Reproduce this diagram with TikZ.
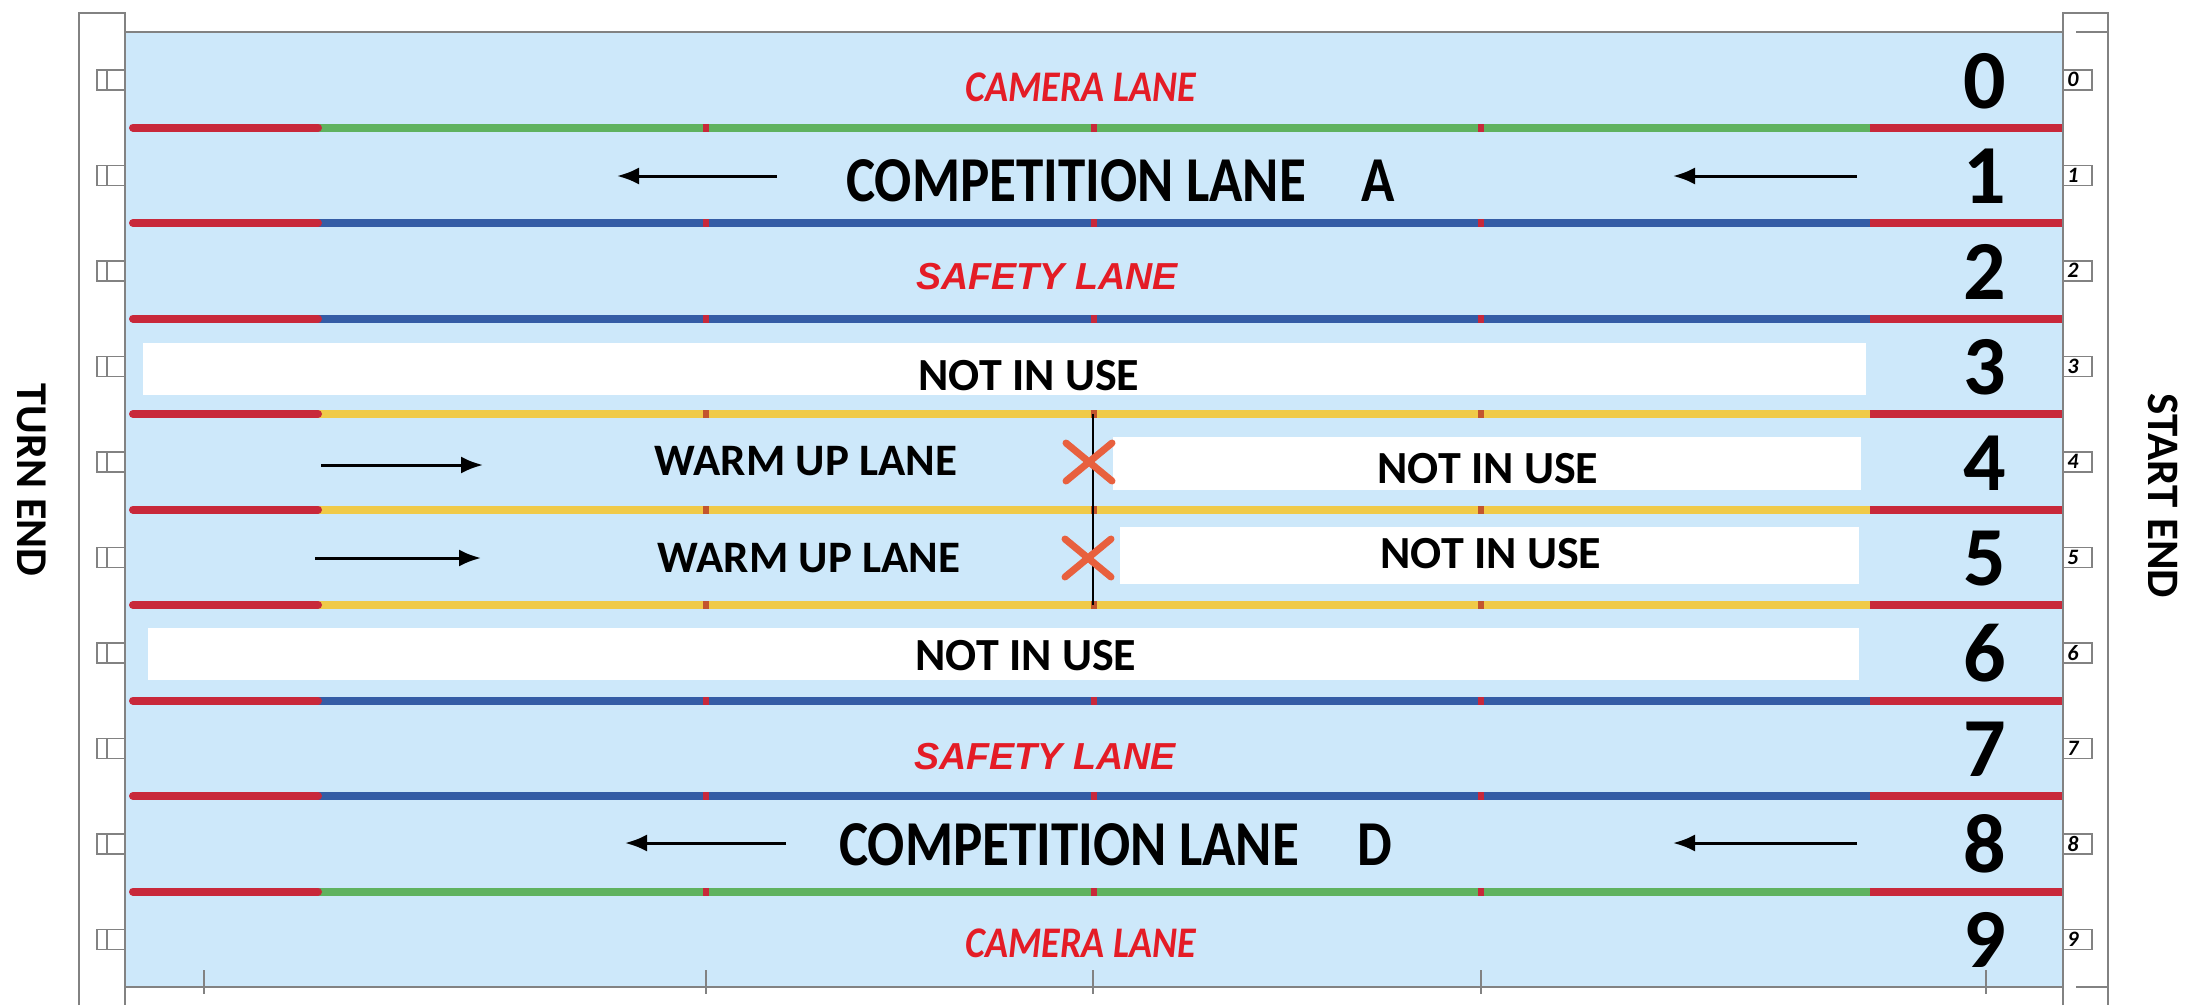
\documentclass[tikz,border=0pt]{standalone}
\usepackage{fontspec}
\usepackage{graphicx}
\setmainfont{Carlito}
\newfontfamily\arialf{Liberation Sans}
\usetikzlibrary{arrows.meta}
\definecolor{poolblue}{RGB}{205,232,250}
\definecolor{ropered}{RGB}{200,40,58}
\definecolor{ropegreen}{RGB}{95,178,95}
\definecolor{ropeblue}{RGB}{52,92,165}
\definecolor{ropeyellow}{RGB}{240,202,72}
\definecolor{labelred}{RGB}{228,28,38}
\definecolor{xorange}{RGB}{232,96,62}
\definecolor{wallgray}{RGB}{130,130,130}
\definecolor{markbrown}{RGB}{195,85,45}
\begin{document}
\begin{tikzpicture}[x=1pt,y=-1pt,
  wall/.style={draw=wallgray,line width=1.8pt},
  rope/.style={line width=8pt},
  lbl/.style={inner sep=0pt,anchor=base,font=\bfseries\fontsize{46}{50}\selectfont},
  redlbl/.style={inner sep=0pt,anchor=base,text=labelred},
  num/.style={inner sep=0pt,anchor=base,font=\bfseries\fontsize{84}{90}\selectfont},
  smalldig/.style={inner sep=0pt,font=\itshape\bfseries\fontsize{22}{24}\selectfont},
  notuse/.style={fill=white,draw=none},
  arr/.style={line width=3pt,-{Latex[length=22pt,width=17pt]}},
  xmark/.style={draw=xorange,line width=7pt,line cap=round},
  tick/.style={draw=wallgray,line width=1.8pt}]
\useasboundingbox (0,0) rectangle (2188,1005);
\fill[white] (0,0) rectangle (2188,1005);
% pool water
\fill[poolblue] (125,32) rectangle (2063,987);
% walls
\draw[wall] (79,1005) -- (79,13) -- (125,13) -- (125,1005);
\draw[wall] (2063,1005) -- (2063,13) -- (2108,13) -- (2108,1005);
\draw[wall] (125,32) -- (2063,32);
\draw[wall] (125,987) -- (2063,987);
\draw[wall] (2076,32) -- (2108,32);
\draw[wall] (2076,987) -- (2108,987);
% bottom ticks
\foreach \tx in {204,706,1093,1481,1986} {\draw[tick] (\tx,970) -- (\tx,994);}
% lane ropes
\foreach \k/\col/\mc in {1/ropegreen/ropered,2/ropeblue/ropered,3/ropeblue/ropered,4/ropeyellow/markbrown,5/ropeyellow/markbrown,6/ropeyellow/markbrown,7/ropeblue/ropered,8/ropeblue/ropered,9/ropegreen/ropered} {
  \pgfmathsetmacro{\ry}{32+95.5*\k}
  \draw[rope,\col] (318,\ry) -- (1870,\ry);
  \draw[rope,ropered,line cap=round] (133,\ry) -- (318,\ry);
  \draw[rope,ropered] (1870,\ry) -- (2062,\ry);
  \foreach \mx in {706,1094,1481} {\fill[\mc] (\mx-3,\ry-4) rectangle (\mx+3,\ry+4);}
}
% starting blocks / lane boxes
\foreach \k in {0,...,9} {
  \pgfmathsetmacro{\cy}{79.75+95.5*\k}
  \draw[wallgray,line width=1.5pt] (97,\cy-10) rectangle (125,\cy+10);
  \draw[wallgray,line width=1.5pt] (107,\cy-10) -- (107,\cy+10);
  \draw[wallgray,line width=1.5pt] (2063,\cy-10) rectangle (2092,\cy+10);
  \node[smalldig] (sd\k) at (2073,\cy) {\k};
}
% white "not in use" boxes
\fill[notuse] (143,343) rectangle (1866,395);
\fill[notuse] (1113,437) rectangle (1861,490);
\fill[notuse] (1120,527) rectangle (1859,584);
\fill[notuse] (148,628) rectangle (1859,680);
% centre line and crosses
\coordinate (cl1) at (1093,414);
\coordinate (cl2) at (1093,605);
\draw[black,line width=2.5pt] (cl1) -- (cl2);
\draw[xmark] (1066,443) -- (1112,481) (1066,481) -- (1112,443);
\draw[xmark] (1065,539) -- (1111,577) (1065,577) -- (1111,539);
% lane numbers
\foreach \k in {0,...,9} {
  \pgfmathsetmacro{\by}{79.75+95.5*\k+28.5}
  \node[num] (n\k) at (1985,\by) {\k};
}
% labels
\node[redlbl,font=\bfseries\itshape\fontsize{38}{40}\selectfont] (cam0) at (1081,101) {\scalebox{1}[1.15]{CAMERA LANE}};
\node[redlbl,font=\bfseries\itshape\fontsize{38}{40}\selectfont] (cam9) at (1081,957) {\scalebox{1}[1.15]{CAMERA LANE}};
\node[redlbl,font=\arialf\bfseries\itshape\fontsize{37.6}{40}\selectfont] (saf2) at (1047,289) {SAFETY LANE};
\node[redlbl,font=\arialf\bfseries\itshape\fontsize{37.6}{40}\selectfont] (saf7) at (1045,769) {SAFETY LANE};
\node[lbl,anchor=base west,font=\bfseries\fontsize{64}{70}\selectfont] (comp1) at (846,201) {\scalebox{0.86}[1]{COMPETITION LANE}};
\node[lbl,anchor=base west,font=\bfseries\fontsize{64}{70}\selectfont] (compA) at (1361,201) {\scalebox{0.86}[1]{A}};
\node[lbl,anchor=base west,font=\bfseries\fontsize{64}{70}\selectfont] (comp8) at (839,865) {\scalebox{0.86}[1]{COMPETITION LANE}};
\node[lbl,anchor=base west,font=\bfseries\fontsize{64}{70}\selectfont] (compD) at (1357,865) {\scalebox{0.86}[1]{D}};
\node[lbl] (niu3) at (1029,390) {NOT IN USE};
\node[lbl] (niu4) at (1488,483) {NOT IN USE};
\node[lbl] (niu5) at (1491,568) {NOT IN USE};
\node[lbl] (niu6) at (1026,670) {NOT IN USE};
\node[lbl,font=\bfseries\fontsize{45}{50}\selectfont] (wu4) at (806,475) {WARM UP LANE};
\node[lbl,font=\bfseries\fontsize{45}{50}\selectfont] (wu5) at (809,572) {WARM UP LANE};
% arrows
\coordinate (a1s) at (777,176); \coordinate (a1e) at (617,176);
\coordinate (b1s) at (1857,176); \coordinate (b1e) at (1673,176);
\coordinate (a8s) at (786,843); \coordinate (a8e) at (625,843);
\coordinate (b8s) at (1857,843); \coordinate (b8e) at (1673,843);
\coordinate (w4s) at (321,465); \coordinate (w4e) at (483,465);
\coordinate (w5s) at (315,558); \coordinate (w5e) at (481,558);
\draw[arr] (a1s) -- (a1e);
\draw[arr] (b1s) -- (b1e);
\draw[arr] (a8s) -- (a8e);
\draw[arr] (b8s) -- (b8e);
\draw[arr] (w4s) -- (w4e);
\draw[arr] (w5s) -- (w5e);
% end labels
\node[inner sep=0pt,rotate=-90,font=\bfseries\fontsize{44}{48}\selectfont] (turn) at (32,480) {TURN END};
\node[inner sep=0pt,rotate=-90,font=\bfseries\fontsize{45}{48}\selectfont] (start) at (2163,496) {START END};
\end{tikzpicture}
\end{document}
